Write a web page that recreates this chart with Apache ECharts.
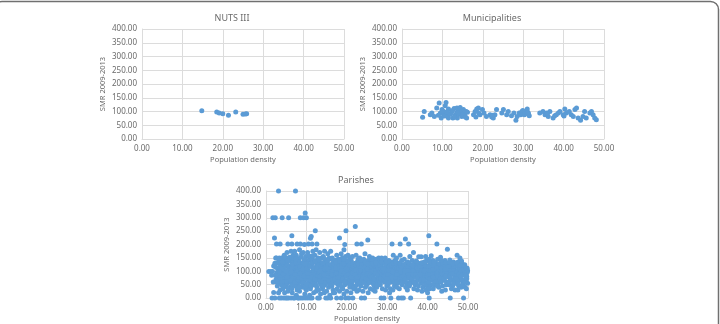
<!DOCTYPE html>
<html>
<head>
<meta charset="utf-8">
<script src="https://cdn.jsdelivr.net/npm/echarts@6/dist/echarts.min.js"></script>
<style>
  html, body { margin: 0; padding: 0; background: #fff; }
  #chart { width: 720px; height: 324px; }
</style>
</head>
<body>
<div id="chart"></div>
<script>
// panel titles and axis texts
const panelTitles = ['NUTS III', 'Municipalities', 'Parishes'];
const xName = 'Population density';
const yName = 'SMR 2009-2013';

// NUTS III regions [density, SMR]
const nutsData = [
    [14.8, 103], [18.5, 98], [19.1, 95], [20.0, 92], [21.4, 86],
    [23.2, 98], [25.0, 90], [25.6, 91], [25.9, 92]
];

// municipalities [density, SMR]
const municipalityData = [
    [5.1, 79], [5.5, 100], [7.0, 88], [7.4, 95], [8.0, 82], [8.6, 113], [9.2, 131],
    [9.5, 95], [9.7, 76], [9.9, 107], [10.3, 88], [10.7, 121], [10.9, 133], [10.9, 95],
    [11.3, 82], [11.5, 109], [11.9, 92], [12.3, 100], [12.6, 76], [12.9, 111], [13.2, 88],
    [13.6, 97], [13.7, 76], [14.0, 109], [14.2, 90], [14.6, 100], [14.8, 82], [15.2, 107],
    [15.5, 92], [15.9, 100], [16.0, 76], [13.6, 113], [11.5, 76], [17.7, 88], [18.1, 100],
    [18.5, 109], [18.9, 113], [19.3, 88], [19.9, 107], [20.3, 95], [20.9, 82], [21.8, 88],
    [22.2, 80], [22.6, 76], [23.0, 88], [23.4, 107], [24.7, 95], [25.1, 107], [25.9, 88],
    [26.3, 100], [27.1, 85], [27.7, 95], [28.2, 68], [28.5, 82], [29.0, 95], [29.4, 88],
    [29.7, 100], [30.0, 95], [30.3, 88], [30.7, 100], [31.0, 109], [31.3, 92], [31.5, 85],
    [34.1, 95], [34.9, 100], [35.4, 88], [35.8, 95], [36.2, 82], [36.6, 100], [37.4, 76],
    [37.8, 85], [38.2, 88], [38.7, 95], [39.1, 100], [39.9, 88], [40.3, 109], [40.7, 95],
    [41.4, 100], [41.9, 88], [42.4, 82], [42.8, 107], [43.2, 113], [43.6, 76], [44.2, 68],
    [44.8, 82], [45.2, 100], [45.6, 76], [46.5, 95], [46.9, 100], [47.3, 88], [47.7, 76],
    [48.1, 70], [10.1, 102], [10.5, 84], [11.1, 99], [12.0, 90], [12.5, 104], [13.0, 80],
    [13.9, 95], [14.4, 115], [15.0, 86], [15.7, 80], [16.2, 97], [9.0, 86], [18.3, 80],
    [19.0, 95], [22.4, 86], [30.5, 92], [29.9, 104], [31.2, 96], [36.0, 92], [40.1, 84]
];

// parishes [density, SMR]
const parishData = [
    [0.7,99],[1.2,99],
    [1.6,99],[1.9,21],[1.7,300],[1.5,0],[1.8,60],[1.4,85],[1.9,120],
    [2.3,300],[2.1,224],[2.6,202],[2.4,150],[2.2,130],[2.7,95],[2.5,70],[2.9,110],[2.8,45],[2.2,0],[2.6,150],[2.9,80],
    [3.1,400],[3.5,202],[3.3,150],[3.6,125],[3.2,100],[3.8,75],[3.4,55],[3.9,130],[3.7,90],[3.5,30],[3.0,65],[3.3,0],[3.8,0],[3.6,110],[3.9,150],
    [4.0,300],[4.3,140],[4.1,115],[4.6,95],[4.4,70],[4.8,50],[4.2,35],[4.7,125],[4.5,160],[4.9,85],[4.2,60],[4.6,20],[4.4,0],[4.9,0],[4.1,100],[4.8,145],
    [5.6,300],[5.4,202],[5.2,170],[5.5,150],[5.1,130],[5.8,115],[5.3,100],[5.7,80],[5.9,60],[5.0,45],[5.4,25],[5.6,0],[5.2,0],[5.8,140],[5.1,90],[5.5,70],[5.3,55],[5.9,105],
    [6.4,233],[6.4,202],[6.2,175],[6.7,160],[6.5,140],[6.1,120],[6.8,105],[6.3,90],[6.6,75],[6.9,60],[6.0,40],[6.5,20],[6.2,0],[6.8,0],[6.4,130],[6.7,50],[6.1,85],[6.9,110],
    [7.3,400],[7.7,202],[7.1,175],[7.5,160],[7.8,140],[7.2,125],[7.6,110],[7.4,95],[7.9,80],[7.0,65],[7.3,45],[7.7,30],[7.5,10],[7.1,0],[7.9,0],[7.6,150],[7.2,70],[7.8,55],[7.4,120],
    [8.5,300],[8.5,202],[8.3,180],[8.8,165],[8.1,145],[8.6,130],[8.9,115],[8.2,100],[8.7,85],[8.4,70],[8.0,55],[8.9,40],[8.3,25],[8.6,0],[8.1,0],[8.8,95],[8.5,60],[8.2,135],
    [9.7,318],[9.3,300],[9.5,200],[9.2,170],[9.8,155],[9.4,140],[9.1,125],[9.6,110],[9.9,95],[9.0,80],[9.5,65],[9.3,50],[9.8,35],[9.6,15],[9.1,0],[9.7,0],[9.4,100],[9.9,135],[9.2,75],
    [10.0,300],[10.5,202],[10.3,170],[10.8,150],[10.1,135],[10.6,120],[10.4,105],[10.9,90],[10.2,75],[10.7,60],[10.5,45],[10.0,30],[10.8,10],[10.3,0],[10.9,0],[10.6,140],[10.1,85],[10.4,55],
    [11.0,223],[11.2,230],[11.4,202],[11.6,175],[11.1,155],[11.8,140],[11.3,125],[11.7,110],[11.5,95],[11.9,80],[11.2,65],[11.6,50],[11.0,35],[11.8,20],[11.4,0],[11.7,100],[11.3,145],[11.9,60],
    [12.2,251],[12.6,202],[12.4,180],[12.1,160],[12.8,145],[12.5,130],[12.3,115],[12.9,100],[12.0,85],[12.7,70],[12.2,55],[12.6,40],[12.4,25],[12.8,0],[12.1,110],[12.9,150],[12.5,65],
    [13.3,170],[13.7,150],[13.1,135],[13.5,120],[13.9,105],[13.2,90],[13.6,75],[13.4,60],[13.8,45],[13.0,30],[13.5,15],[13.2,0],[13.9,130],[13.7,95],[13.3,110],[13.1,70],
    [14.5,175],[14.2,155],[14.8,140],[14.4,125],[14.1,110],[14.7,95],[14.3,80],[14.9,65],[14.6,50],[14.0,35],[14.4,20],[14.8,0],[14.2,100],[14.6,145],[14.9,115],[14.1,60],
    [15.3,165],[15.8,145],[15.1,130],[15.6,115],[15.4,100],[15.9,85],[15.2,70],[15.7,55],[15.5,40],[15.0,25],[15.8,10],[15.3,0],[15.6,150],[15.1,90],[15.9,120],[15.4,60],
    [16.0,175],[16.4,150],[16.7,135],[16.2,120],[16.9,105],[16.5,90],[16.1,75],[16.8,60],[16.3,45],[16.6,30],[16.0,0],[16.9,140],[16.4,110],[16.2,85],[16.7,20],
    [17.5,160],[17.2,140],[17.8,125],[17.4,110],[17.1,95],[17.7,80],[17.3,65],[17.9,50],[17.6,35],[17.0,20],[17.5,0],[17.8,100],[17.2,130],[17.4,55],[17.9,145],
    [18.2,224],[18.6,165],[18.3,145],[18.9,130],[18.5,115],[18.1,100],[18.7,85],[18.4,70],[18.0,55],[18.8,40],[18.2,25],[18.6,0],[18.9,150],[18.3,90],[18.5,60],[18.1,120],
    [19.8,251],[19.5,200],[19.3,180],[19.7,155],[19.1,140],[19.6,125],[19.4,110],[19.9,95],[19.2,80],[19.8,65],[19.5,50],[19.0,35],[19.3,15],[19.7,0],[19.1,105],[19.6,135],
    [20.3,160],[20.7,145],[20.1,130],[20.5,115],[20.9,100],[20.2,85],[20.6,70],[20.4,55],[20.8,40],[20.0,25],[20.5,0],[20.3,120],[20.9,150],[20.1,95],[20.7,60],
    [21.4,155],[21.1,140],[21.8,125],[21.5,110],[21.2,95],[21.9,80],[21.6,65],[21.3,50],[21.7,35],[21.0,20],[21.5,0],[21.8,100],[21.2,130],[21.6,90],
    [22.1,267],[22.5,202],[22.3,160],[22.8,145],[22.1,130],[22.6,115],[22.4,100],[22.9,85],[22.2,70],[22.7,55],[22.0,40],[22.5,25],[22.8,110],[22.3,90],[22.6,135],
    [23.6,202],[23.2,150],[23.8,135],[23.4,120],[23.1,105],[23.7,90],[23.3,75],[23.9,60],[23.5,45],[23.0,30],[23.6,0],[23.2,95],[23.8,110],[23.4,65],
    [24.5,165],[24.2,145],[24.8,130],[24.4,115],[24.1,100],[24.7,85],[24.3,70],[24.9,55],[24.6,40],[24.0,25],[24.4,0],[24.8,105],[24.2,120],[24.6,90],
    [25.2,217],[25.6,155],[25.3,140],[25.9,125],[25.5,110],[25.1,95],[25.7,80],[25.4,65],[25.0,50],[25.8,35],[25.3,20],[25.6,100],[25.9,145],[25.2,75],
    [26.4,150],[26.1,135],[26.7,120],[26.3,105],[26.9,90],[26.5,75],[26.2,60],[26.8,45],[26.6,30],[26.0,110],[26.5,140],[26.9,65],[26.3,85],
    [27.3,145],[27.8,130],[27.1,115],[27.5,100],[27.9,85],[27.2,70],[27.6,55],[27.4,40],[27.0,25],[27.7,110],[27.3,90],[27.9,150],[27.5,60],
    [28.2,140],[28.6,125],[28.9,110],[28.4,95],[28.1,80],[28.7,65],[28.3,50],[28.8,35],[28.5,0],[28.0,100],[28.6,150],[28.9,70],[28.3,115],
    [29.5,150],[29.2,135],[29.8,120],[29.4,105],[29.1,90],[29.7,75],[29.3,60],[29.9,45],[29.6,30],[29.0,110],[29.5,85],[29.8,95],[29.2,0],
    [30.4,140],[30.1,125],[30.7,110],[30.3,95],[30.9,80],[30.5,65],[30.2,50],[30.8,35],[30.6,20],[30.0,100],[30.4,85],[30.7,130],[30.9,0],
    [31.2,202],[31.5,160],[31.1,135],[31.7,120],[31.3,105],[31.9,90],[31.6,75],[31.2,60],[31.8,45],[31.4,30],[31.0,110],[31.6,95],[31.9,140],
    [32.3,150],[32.7,130],[32.1,115],[32.5,100],[32.9,85],[32.2,70],[32.6,55],[32.4,40],[32.8,0],[32.0,95],[32.5,120],[32.9,65],[32.3,80],
    [33.2,202],[33.2,160],[33.6,140],[33.1,125],[33.8,110],[33.4,95],[33.9,80],[33.3,65],[33.7,50],[33.0,35],[33.5,0],[33.9,100],[33.2,90],[33.6,120],
    [34.5,221],[34.2,145],[34.8,130],[34.4,115],[34.1,100],[34.7,85],[34.3,70],[34.9,55],[34.6,40],[34.0,0],[34.5,105],[34.8,95],[34.2,75],
    [35.3,202],[35.6,155],[35.1,135],[35.8,120],[35.4,105],[35.9,90],[35.2,75],[35.7,60],[35.5,45],[35.0,30],[35.8,0],[35.3,95],[35.6,110],
    [36.5,170],[36.2,140],[36.8,125],[36.4,110],[36.1,95],[36.7,80],[36.3,65],[36.9,50],[36.6,35],[36.0,100],[36.5,85],[36.9,130],[36.2,60],
    [37.8,154],[37.3,135],[37.1,120],[37.6,105],[37.4,90],[37.9,75],[37.2,60],[37.7,45],[37.5,30],[37.0,100],[37.3,80],[37.6,115],
    [38.4,154],[38.2,130],[38.7,115],[38.1,100],[38.5,85],[38.9,70],[38.3,55],[38.8,40],[38.6,25],[38.0,95],[38.4,110],[38.9,120],
    [39.5,155],[39.2,135],[39.8,120],[39.4,105],[39.1,90],[39.7,75],[39.3,60],[39.9,45],[39.6,30],[39.0,100],[39.5,85],[39.8,140],
    [40.3,233],[40.9,158],[40.2,140],[40.6,125],[40.4,110],[40.1,95],[40.7,80],[40.3,65],[40.8,50],[40.5,35],[40.0,20],[40.4,0],[40.9,100],[40.6,90],
    [41.3,140],[41.8,125],[41.1,110],[41.5,95],[41.9,80],[41.2,65],[41.6,50],[41.4,35],[41.0,100],[41.7,115],[41.3,85],[41.9,130],
    [42.3,202],[42.5,145],[42.1,130],[42.7,115],[42.4,100],[42.9,85],[42.2,70],[42.6,55],[42.8,40],[42.0,90],[42.5,120],[42.3,75],
    [43.2,152],[43.6,135],[43.1,120],[43.8,105],[43.4,90],[43.9,75],[43.3,60],[43.7,45],[43.5,25],[43.0,100],[43.6,110],[43.2,85],
    [44.9,182],[44.3,140],[44.7,125],[44.1,110],[44.5,95],[44.9,80],[44.2,65],[44.6,50],[44.4,30],[44.0,100],[44.8,115],[44.3,85],
    [45.5,142],[45.2,125],[45.8,110],[45.4,95],[45.1,80],[45.7,65],[45.3,50],[45.9,35],[45.6,0],[45.0,100],[45.5,90],[45.8,130],
    [46.4,135],[46.1,120],[46.7,105],[46.3,90],[46.9,75],[46.5,60],[46.2,45],[46.8,30],[46.0,110],[46.6,95],[46.3,125],[46.9,85],
    [47.3,160],[47.6,135],[47.1,120],[47.8,105],[47.4,90],[47.9,75],[47.2,60],[47.7,45],[47.5,30],[47.0,100],[47.6,115],[47.3,80],
    [48.0,150],[48.5,130],[48.2,115],[48.8,100],[48.4,85],[48.1,70],[48.7,55],[48.3,40],[48.9,0],[48.6,110],[48.2,95],[48.9,120],
    [49.2,124],[49.8,111],[49.5,100],[49.1,90],[49.7,80],[49.4,65],[49.9,55],[49.3,40],[49.6,35],[49.0,105],[49.8,95],[49.5,75]
];

// more parishes from the dense core of the cloud
const parishCore = [
    [2.4,115],[2.8,130],[2.3,85],[2.7,60],
    [3.2,140],[3.6,85],[3.9,48],[3.4,115],[3.1,20],[3.7,62],[3.5,98],
    [4.3,108],[4.7,78],[4.1,135],[4.5,42],[4.9,118],[4.3,88],[4.7,152],[4.0,62],
    [5.3,122],[5.7,92],[5.1,62],[5.5,37],[5.9,152],[5.2,78],[5.6,112],[5.4,140],[5.0,100],
    [6.3,112],[6.7,88],[6.1,65],[6.5,48],[6.9,148],[6.2,98],[6.6,125],[6.4,35],[6.8,78],
    [7.3,132],[7.7,98],[7.1,58],[7.5,78],[7.9,115],[7.2,88],[7.6,42],[7.4,145],[7.8,68],
    [8.3,122],[8.7,108],[8.1,78],[8.5,92],[8.9,58],[8.2,42],[8.6,152],[8.4,118],[8.8,75],
    [9.3,118],[9.7,88],[9.1,108],[9.5,128],[9.9,72],[9.2,58],[9.6,145],[9.4,82],[9.8,42],
    [10.3,128],[10.7,98],[10.1,112],[10.5,82],[10.9,68],[10.2,52],[10.6,158],[10.4,92],[10.8,122],
    [11.3,88],[11.7,72],[11.1,118],[11.5,132],[11.9,102],[11.2,45],[11.6,158],[11.4,78],[11.8,112],
    [12.3,92],[12.7,122],[12.1,72],[12.5,98],[12.9,82],[12.2,138],[12.6,108],[12.4,48],[12.8,118],
    [13.3,82],[13.7,118],[13.1,98],[13.5,52],[13.9,88],[13.2,142],[13.6,62],[13.4,102],[13.8,128],
    [14.3,92],[14.7,118],[14.1,132],[14.5,72],[14.9,88],[14.2,45],[14.6,108],[14.4,85],[14.8,58],
    [15.3,108],[15.7,78],[15.1,112],[15.5,92],[15.9,52],[15.2,138],[15.6,65],[15.4,125],[15.8,98],
    [16.3,98],[16.7,112],[16.1,125],[16.5,68],[16.9,82],[16.2,52],[16.6,102],[16.4,88],[16.8,128],
    [17.3,88],[17.7,118],[17.1,72],[17.5,102],[17.9,62],[17.2,112],[17.6,92],[17.4,135],[17.8,78],
    [18.3,108],[18.7,128],[18.1,78],[18.5,92],[18.9,68],[18.2,138],[18.6,102],[18.4,48],[18.8,118],
    [19.3,92],[19.7,118],[19.1,72],[19.5,100],[19.9,82],[19.2,128],[19.6,60],[19.4,145],[19.8,108],
    [20.3,102],[20.7,92],[20.1,112],[20.5,78],[20.9,65],[20.2,138],[20.6,122],[20.4,88],[20.8,48],
    [21.3,112],[21.7,88],[21.1,78],[21.5,128],[21.9,102],[21.2,62],[21.6,118],[21.4,92],[21.8,42],
    [22.3,122],[22.7,98],[22.1,88],[22.5,62],[22.9,118],[22.2,105],[22.6,78],[22.4,48],[22.8,128],
    [23.3,88],[23.7,125],[23.1,98],[23.5,112],[23.9,80],[23.2,55],[23.6,140],[23.4,102],[23.8,68],
    [24.3,92],[24.7,122],[24.1,78],[24.5,102],[24.9,88],[24.2,58],[24.6,135],[24.4,112],[24.8,72],
    [25.3,88],[25.7,118],[25.1,108],[25.5,72],[25.9,98],[25.2,128],[25.6,58],[25.4,92],[25.8,82],
    [26.3,98],[26.7,88],[26.1,118],[26.5,102],[26.9,122],[26.2,78],[26.6,52],[26.4,128],[26.8,72],
    [27.3,102],[27.7,78],[27.1,92],[27.5,122],[27.9,68],[27.2,132],[27.6,88],[27.4,48],[27.8,112],
    [28.3,98],[28.7,88],[28.1,122],[28.5,108],[28.9,78],[28.2,58],[28.6,135],[28.4,72],[28.8,102],
    [29.3,98],[29.7,118],[29.1,72],[29.5,128],[29.9,88],[29.2,108],[29.6,62],[29.4,82],[29.8,138],
    [30.3,108],[30.7,92],[30.1,72],[30.5,118],[30.9,102],[30.2,88],[30.6,135],[30.4,58],[30.8,122],
    [31.3,88],[31.7,102],[31.1,122],[31.5,68],[31.9,112],[31.2,78],[31.6,130],[31.4,98],[31.8,58],
    [32.3,108],[32.7,92],[32.1,78],[32.5,62],[32.9,118],[32.2,135],[32.6,98],[32.4,88],[32.8,112],
    [33.3,108],[33.7,88],[33.1,72],[33.5,118],[33.9,58],[33.2,132],[33.6,78],[33.4,98],
    [34.3,92],[34.7,118],[34.1,82],[34.5,62],[34.9,108],[34.2,125],[34.6,72],[34.4,102],
    [35.3,118],[35.7,82],[35.1,102],[35.5,128],[35.9,68],[35.2,88],[35.6,52],[35.4,78],
    [36.3,92],[36.7,118],[36.1,72],[36.5,102],[36.9,82],[36.2,122],[36.6,58],[36.4,88],
    [37.3,92],[37.7,128],[37.1,88],[37.5,68],[37.9,102],[37.2,138],[37.6,78],[37.4,112],
    [38.3,92],[38.7,78],[38.1,118],[38.5,102],[38.9,58],[38.2,88],[38.6,132],[38.4,68],
    [39.3,92],[39.7,112],[39.1,68],[39.5,122],[39.9,82],[39.2,102],[39.6,52],[39.4,135],
    [40.3,118],[40.7,102],[40.1,78],[40.5,88],[40.9,132],[40.2,58],[40.6,72],[40.4,145],
    [41.3,108],[41.7,92],[41.1,72],[41.5,122],[41.9,62],[41.2,88],[41.6,135],[41.4,78],
    [42.3,92],[42.7,108],[42.1,62],[42.5,82],[42.9,128],[42.2,112],[42.6,98],[42.4,45],
    [43.3,98],[43.7,128],[43.1,72],[43.5,112],[43.9,88],[43.2,62],[43.6,92],[43.4,140],
    [44.3,102],[44.7,92],[44.1,72],[44.5,132],[44.9,58],[44.2,118],[44.6,82],[44.4,108],
    [45.3,108],[45.7,92],[45.1,118],[45.5,72],[45.9,102],[45.2,58],[45.6,82],[45.4,135],
    [46.3,102],[46.7,82],[46.1,92],[46.5,118],[46.9,62],[46.2,128],[46.6,72],[46.4,52],
    [47.3,98],[47.7,88],[47.1,72],[47.5,122],[47.9,108],[47.2,132],[47.6,62],[47.4,52],
    [48.3,102],[48.7,88],[48.1,122],[48.5,68],[48.9,108],[48.2,82],[48.6,48],[48.4,138],
    [49.3,92],[49.7,72],[49.1,118],[49.5,88],[49.9,102],[49.2,58],[49.6,112],[49.4,82]
];

const chartDom = document.getElementById('chart');
const myChart = echarts.init(chartDom);

const dotColor = '#5b9bd5';
const textColor = '#6b6b6b';
const gridColor = '#dcdcdc';
const fontFamily = 'Noto Sans, sans-serif';

// plot areas in pixels
const grids = [
    { left: 142, top: 29, width: 202, height: 110 },
    { left: 402, top: 29, width: 202, height: 110 },
    { left: 266, top: 191, width: 202, height: 110 }
];
const titlePos = [[227, 9], [487, 9], [351, 171]];
const panelData = [nutsData, municipalityData, parishData.concat(parishCore)];

function makeX(i) {
    return {
        type: 'value', gridIndex: i, min: 0, max: 50, interval: 10,
        name: xName, nameLocation: 'middle', nameGap: 17,
        nameTextStyle: { color: textColor, fontSize: 7.5, fontFamily: fontFamily },
        axisLine: { show: true, lineStyle: { color: gridColor } },
        axisTick: { show: false },
        axisLabel: { color: textColor, fontSize: 8, fontFamily: fontFamily, margin: 6,
            formatter: v => v.toFixed(2) },
        splitLine: { show: true, lineStyle: { color: gridColor, width: 1 } }
    };
}

function makeY(i) {
    return {
        type: 'value', gridIndex: i, min: 0, max: 400, interval: 50,
        name: yName, nameLocation: 'middle', nameGap: 35, nameRotate: 90,
        nameTextStyle: { color: textColor, fontSize: 7.5, fontFamily: fontFamily },
        axisLine: { show: true, lineStyle: { color: gridColor } },
        axisTick: { show: false },
        axisLabel: { color: textColor, fontSize: 8, fontFamily: fontFamily, margin: 5,
            formatter: v => v.toFixed(2) },
        splitLine: { show: true, lineStyle: { color: gridColor, width: 1 } }
    };
}

const option = {
    backgroundColor: '#fff',
    animation: false,
    title: panelTitles.map((t, i) => ({
        text: t, left: titlePos[i][0], top: titlePos[i][1], textAlign: 'center',
        textStyle: { color: textColor, fontSize: 9, fontWeight: 'normal', fontFamily: fontFamily }
    })),
    grid: grids,
    xAxis: [0, 1, 2].map(makeX),
    yAxis: [0, 1, 2].map(makeY),
    series: panelData.map((d, i) => ({
        type: 'scatter', xAxisIndex: i, yAxisIndex: i,
        data: d, symbolSize: 5,
        itemStyle: { color: dotColor, opacity: 1 }
    })),
    graphic: [{
        // outer frame of the figure
        type: 'rect', silent: true,
        shape: { x: -6, y: 1.5, width: 724.5, height: 340, r: 8 },
        style: { fill: 'none', stroke: '#707070', lineWidth: 1.5 }
    }]
};
myChart.setOption(option);
</script>
</body>
</html>
